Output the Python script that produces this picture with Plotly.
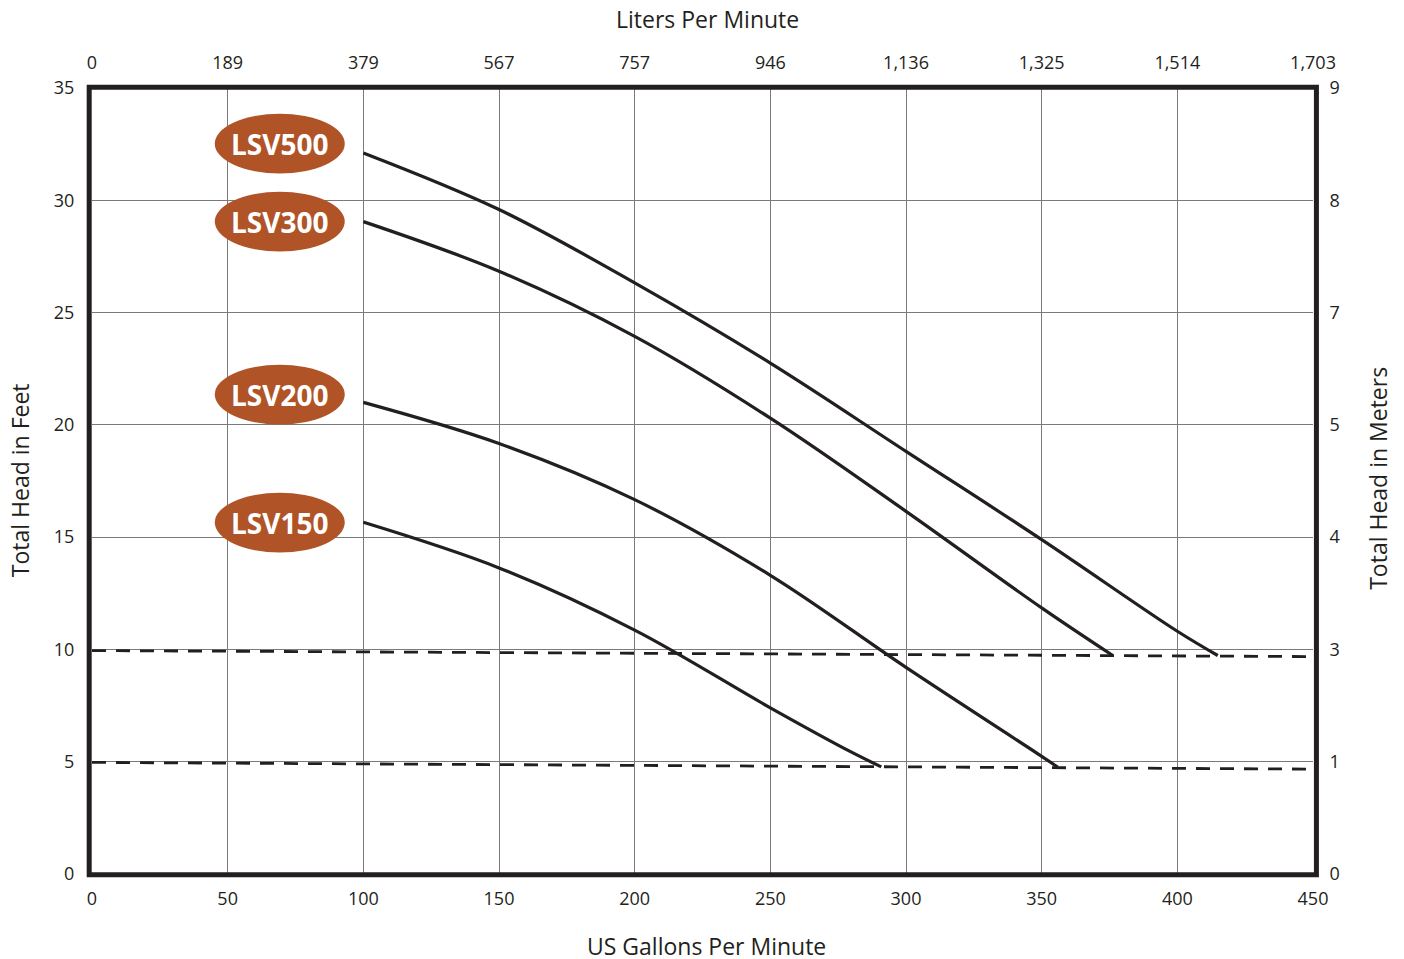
import plotly.graph_objects as go

# ---- data ----
gpm_ticks = [0, 50, 100, 150, 200, 250, 300, 350, 400, 450]
lpm_labels = ["0", "189", "379", "567", "757", "946", "1,136", "1,325", "1,514", "1,703"]
feet_ticks = [0, 5, 10, 15, 20, 25, 30, 35]
meter_labels = ["0", "1", "3", "4", "5", "7", "8", "9"]

lsv500_x = [100, 150, 200, 250, 300, 350, 400, 414.9]
lsv500_y = [32.11, 29.59, 26.32, 22.75, 18.82, 14.89, 10.81, 9.73]
lsv300_x = [100, 150, 200, 250, 300, 350, 376.2]
lsv300_y = [29.05, 26.84, 23.94, 20.3, 16.15, 11.85, 9.73]
lsv200_x = [100, 150, 200, 250, 300, 350, 355.9]
lsv200_y = [21.0, 19.17, 16.67, 13.3, 9.2, 5.24, 4.76]
lsv150_x = [100, 150, 200, 250, 279.2, 290.9]
lsv150_y = [15.66, 13.63, 10.86, 7.40, 5.47, 4.77]

dash_hi_x = [0, 450]
dash_hi_y = [9.95, 9.68]
dash_lo_x = [0, 450]
dash_lo_y = [4.97, 4.67]

models = ["LSV500", "LSV300", "LSV200", "LSV150"]
label_y = [32.52, 29.05, 21.35, 15.65]
label_x = 69.2

ink = "#231F20"
badge = "#B05428"
font_family = "Open Sans, Noto Sans, sans-serif"

fig = go.Figure()

for xs, ys in [(lsv500_x, lsv500_y), (lsv300_x, lsv300_y), (lsv200_x, lsv200_y), (lsv150_x, lsv150_y)]:
    fig.add_trace(go.Scatter(x=xs, y=ys, mode="lines", line=dict(color=ink, width=3.2, shape="spline", smoothing=1.0),
                             showlegend=False, hoverinfo="skip"))

for xs, ys in [(dash_hi_x, dash_hi_y), (dash_lo_x, dash_lo_y)]:
    fig.add_trace(go.Scatter(x=xs, y=ys, mode="lines", line=dict(color=ink, width=2.8, dash="14px,10px"),
                             showlegend=False, hoverinfo="skip"))

# invisible trace to activate secondary axes
fig.add_trace(go.Scatter(x=[0, 450], y=[0, 35], xaxis="x2", yaxis="y2", mode="markers",
                         marker=dict(opacity=0), showlegend=False, hoverinfo="skip"))

shapes = []
for m, yv in zip(models, label_y):
    shapes.append(dict(type="circle", xref="x", yref="y", x0=label_x - 23.95, x1=label_x + 23.95,
                       y0=yv - 1.33, y1=yv + 1.33, fillcolor=badge, line=dict(width=0), layer="above"))
shapes.append(dict(type="rect", xref="paper", yref="paper", x0=-0.0023, x1=1.0028, y0=-0.001, y1=1.001,
                   line=dict(color=ink, width=5), layer="above"))

annotations = [dict(x=label_x, y=yv, xref="x", yref="y", text="<b>%s</b>" % m, showarrow=False,
                    font=dict(family=font_family, size=28, color="white")) for m, yv in zip(models, label_y)]

title_font = dict(family=font_family, size=23, color=ink)
annotations += [
    dict(x=0.5037, y=1.0878, xref="paper", yref="paper", text="Liters Per Minute", showarrow=False,
         xanchor="center", yanchor="middle", font=title_font),
    dict(x=0.503, y=-0.0916, xref="paper", yref="paper", text="US Gallons Per Minute", showarrow=False,
         xanchor="center", yanchor="middle", font=title_font),
    dict(x=-0.059, y=0.501, xref="paper", yref="paper", text="Total Head in Feet", showarrow=False,
         textangle=-90, xanchor="center", yanchor="middle", font=title_font),
    dict(x=1.0532, y=0.504, xref="paper", yref="paper", text="Total Head in Meters", showarrow=False,
         textangle=-90, xanchor="center", yanchor="middle", font=title_font),
]

axis_font = dict(family=font_family, size=18, color=ink)

fig.update_layout(
    width=1404, height=959,
    margin=dict(l=84, r=99, t=80, b=93),
    paper_bgcolor="white", plot_bgcolor="white",
    font=dict(family=font_family, color=ink),
    shapes=shapes, annotations=annotations,
    xaxis=dict(range=[0, 450], tickvals=gpm_ticks, ticktext=[str(v) for v in gpm_ticks], automargin=False,
               showgrid=True, gridcolor="#7a7a7a", gridwidth=1, zeroline=False,
               ticks="outside", ticklen=8, tickcolor="rgba(0,0,0,0)", tickfont=axis_font),
    xaxis2=dict(range=[0, 450], overlaying="x", side="top", tickvals=gpm_ticks, ticktext=lpm_labels,
                automargin=False, showgrid=False, zeroline=False, ticks="outside", ticklen=11,
                tickcolor="rgba(0,0,0,0)", tickfont=axis_font),
    yaxis=dict(range=[0, 35], tickvals=feet_ticks, ticktext=[str(v) for v in feet_ticks], automargin=False,
               showgrid=True, gridcolor="#7a7a7a", gridwidth=1, zeroline=False,
               ticks="outside", ticklen=13, tickcolor="rgba(0,0,0,0)", tickfont=axis_font),
    yaxis2=dict(range=[0, 35], overlaying="y", side="right", tickvals=feet_ticks, ticktext=meter_labels,
                automargin=False, showgrid=False, zeroline=False, ticks="outside", ticklen=12,
                tickcolor="rgba(0,0,0,0)", tickfont=axis_font),
)

fig.write_html("out.html")
